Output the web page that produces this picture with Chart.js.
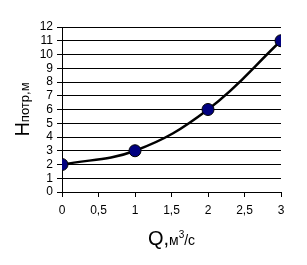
<!DOCTYPE html>
<html>
<head>
<meta charset="utf-8">
<script src="https://cdn.jsdelivr.net/npm/chart.js@4"></script>
<style>
  html, body { margin: 0; padding: 0; background: #fff; }
  #wrap { width: 307px; height: 265px; }
</style>
</head>
<body>
<div id="wrap"><canvas id="chart"></canvas></div>
<script>
const flowQ = [0, 1, 2, 3];          // Q, m3/s
const headH = [2, 3, 6, 11];         // H потр, m
const xTicks = [0, 0.5, 1, 1.5, 2, 2.5, 3];
const yTicks = [0, 1, 2, 3, 4, 5, 6, 7, 8, 9, 10, 11, 12];

const FONT = "'Liberation Sans', Arial, sans-serif";

// titles drawn by hand: mixed font sizes + superscript
const titlePlugin = {
  id: "titles",
  afterDraw(chart) {
    const ctx = chart.ctx;
    const area = chart.chartArea;
    ctx.save();
    ctx.fillStyle = "#000";
    ctx.textBaseline = "alphabetic";

    // x title: Q,м³/с
    const big = "20px " + FONT, small = "14px " + FONT, sup = "10px " + FONT;
    ctx.font = big; const wQ = ctx.measureText("Q,").width;
    ctx.font = small; const wM = ctx.measureText("м").width;
    ctx.font = sup; const w3 = ctx.measureText("3").width;
    ctx.font = small; const wC = ctx.measureText("/с").width;
    let x = (area.left + area.right) / 2 - (wQ + wM + w3 + wC) / 2;
    const by = 245;
    ctx.font = big; ctx.fillText("Q,", x, by); x += wQ;
    ctx.font = small; ctx.fillText("м", x, by); x += wM;
    ctx.font = sup; ctx.fillText("3", x, by - 7); x += w3;
    ctx.font = small; ctx.fillText("/с", x, by);

    // y title: Hпотр,м rotated
    ctx.translate(29, (area.top + area.bottom) / 2);
    ctx.rotate(-Math.PI / 2);
    ctx.font = big; const wH = ctx.measureText("H").width;
    ctx.font = "13px " + FONT; const wSub = ctx.measureText("потр,м").width;
    let t = -(wH + wSub) / 2;
    ctx.font = big; ctx.fillText("H", t, 0); t += wH;
    ctx.font = "13px " + FONT; ctx.fillText("потр,м", t, 0);
    ctx.restore();
  }
};

new Chart(document.getElementById("chart"), {
  type: "line",
  data: {
    datasets: [{
      data: flowQ.map((q, i) => ({ x: q, y: headH[i] })),
      borderColor: "#000",
      borderWidth: 2.5,
      tension: 0.4,
      pointRadius: 6,
      pointBackgroundColor: "#000080",
      pointBorderColor: "#000",
      pointBorderWidth: 1,
      fill: false
    }]
  },
  options: {
    responsive: true,
    maintainAspectRatio: false,
    animation: false,
    devicePixelRatio: 1,
    layout: { padding: { left: 0, right: 26, top: 27, bottom: 0 } },
    plugins: { legend: { display: false }, tooltip: { enabled: false } },
    scales: {
      x: {
        type: "linear",
        min: 0,
        max: 3,
        afterBuildTicks: (s) => { s.ticks = xTicks.map(v => ({ value: v })); },
        afterFit: (s) => { s.height = 73; },
        ticks: {
          color: "#000",
          font: { family: FONT, size: 12 },
          padding: 6,
          maxRotation: 0,
          autoSkip: false,
          callback: (v) => String(v).replace(".", ",")
        },
        grid: { drawOnChartArea: false, drawTicks: true, tickLength: 5, color: "#000" },
        border: { color: "#000", width: 1 }
      },
      y: {
        min: 0,
        max: 12,
        afterBuildTicks: (s) => { s.ticks = yTicks.map(v => ({ value: v })); },
        afterFit: (s) => { s.width = 62; },
        ticks: {
          color: "#000",
          font: { family: FONT, size: 12 },
          padding: 4,
          autoSkip: false
        },
        grid: { color: "#000", tickLength: 5, lineWidth: 1 },
        border: { color: "#000", width: 1 }
      }
    }
  },
  plugins: [titlePlugin]
});
</script>
</body>
</html>
